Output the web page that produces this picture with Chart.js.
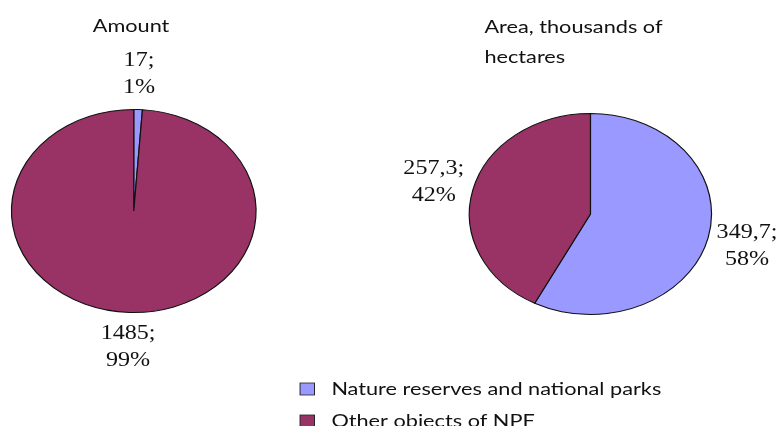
<!DOCTYPE html>
<html>
<head>
<meta charset="utf-8">
<script src="https://cdn.jsdelivr.net/npm/chart.js@4"></script>
<style>
  html, body { margin: 0; padding: 0; background: #fff; }
  #wrap { position: relative; width: 780px; height: 426px; overflow: hidden; }
  #wrap canvas { position: absolute; left: 0; top: 0; }
</style>
</head>
<body>
<div id="wrap">
  <canvas id="amountChart" width="780" height="426"></canvas>
  <canvas id="areaChart" width="780" height="426"></canvas>
</div>
<script>
const categories = ["Nature reserves and national parks", "Other objects of NPF"];
const amountValues = [17, 1485];
const areaValues = [349.7, 257.3];
const amountTitle = ["Amount"];
const areaTitle = ["Area, thousands of", "hectares"];
const colors = ["#9999ff", "#993366"];

// the source picture is stretched sideways, so draw everything stretched
const SX = 1.205;
const sans = "Lato, 'Open Sans', sans-serif";
const serif = "'Liberation Serif', 'DejaVu Serif', serif";

const stretch = {
  id: "stretch",
  beforeDraw(chart) {
    chart.ctx.save();
    chart.ctx.scale(SX, 1);
  },
  afterDraw(chart) {
    chart.ctx.restore();
  },
};

// "value;" / "pct%" labels just outside each slice
const sliceLabels = {
  id: "sliceLabels",
  afterDatasetsDraw(chart, args, opts) {
    const ctx = chart.ctx;
    const values = chart.data.datasets[0].data;
    const total = values.reduce((a, b) => a + b, 0);
    ctx.save();
    ctx.fillStyle = "#111";
    ctx.font = "20px " + serif;
    ctx.textAlign = "center";
    ctx.textBaseline = "middle";
    chart.getDatasetMeta(0).data.forEach((arc, i) => {
      const v = values[i];
      const lines = [
        String(v).replace(".", ",") + ";",
        Math.round((v * 100) / total) + "%",
      ];
      const mid = (arc.startAngle + arc.endAngle) / 2;
      const c = Math.cos(mid), s = Math.sin(mid);
      const r = arc.outerRadius + opts.gap;
      const w = Math.max(...lines.map((l) => ctx.measureText(l).width));
      const h = lines.length * opts.lineHeight;
      const x = arc.x + c * r + (c * w) / 2;
      const y = arc.y + s * r + (s * h) / 2;
      lines.forEach((l, j) => {
        ctx.fillText(l, x, y - h / 2 + opts.lineHeight * (j + 0.5));
      });
    });
    ctx.restore();
  },
};

// chart heading and (optionally) the shared legend
const extras = {
  id: "extras",
  afterDatasetsDraw(chart, args, opts) {
    const ctx = chart.ctx;
    ctx.save();
    ctx.fillStyle = "#111";
    ctx.font = "18px " + sans;
    ctx.textAlign = "left";
    ctx.textBaseline = "alphabetic";
    opts.title.forEach((t, j) => {
      ctx.fillText(t, opts.titleX, opts.titleY + j * 30);
    });
    if (opts.legend) {
      const colorsUsed = chart.data.datasets[0].backgroundColor;
      ctx.font = "18px " + sans;
      chart.data.labels.forEach((lab, i) => {
        const base = 395 + i * 32;
        ctx.fillStyle = colorsUsed[i];
        ctx.fillRect(249, base - 12, 12, 12);
        ctx.strokeStyle = "#222";
        ctx.lineWidth = 0.8;
        ctx.strokeRect(249, base - 12, 12, 12);
        ctx.fillStyle = "#111";
        ctx.fillText(lab, 275, base);
      });
    }
    ctx.restore();
  },
};

function makePie(id, values, title, padding, titleX, titleY, legend) {
  return new Chart(document.getElementById(id), {
    type: "pie",
    data: {
      labels: categories,
      datasets: [
        {
          data: values,
          backgroundColor: colors,
          borderColor: "#111",
          borderWidth: 1,
          clip: false,
        },
      ],
    },
    options: {
      responsive: false,
      animation: false,
      events: [],
      layout: { padding: padding },
      plugins: {
        legend: { display: false },
        tooltip: { enabled: false },
        sliceLabels: { gap: 8, lineHeight: 27 },
        extras: { title: title, titleX: titleX, titleY: titleY, legend: legend },
      },
    },
    plugins: [stretch, sliceLabels, extras],
  });
}

makePie("amountChart", amountValues, amountTitle,
  { left: 9, right: 567, top: 109, bottom: 113 }, 77, 32, false);
makePie("areaChart", areaValues, areaTitle,
  { left: 389, right: 189, top: 113, bottom: 111 }, 402, 33, true);
</script>
</body>
</html>
